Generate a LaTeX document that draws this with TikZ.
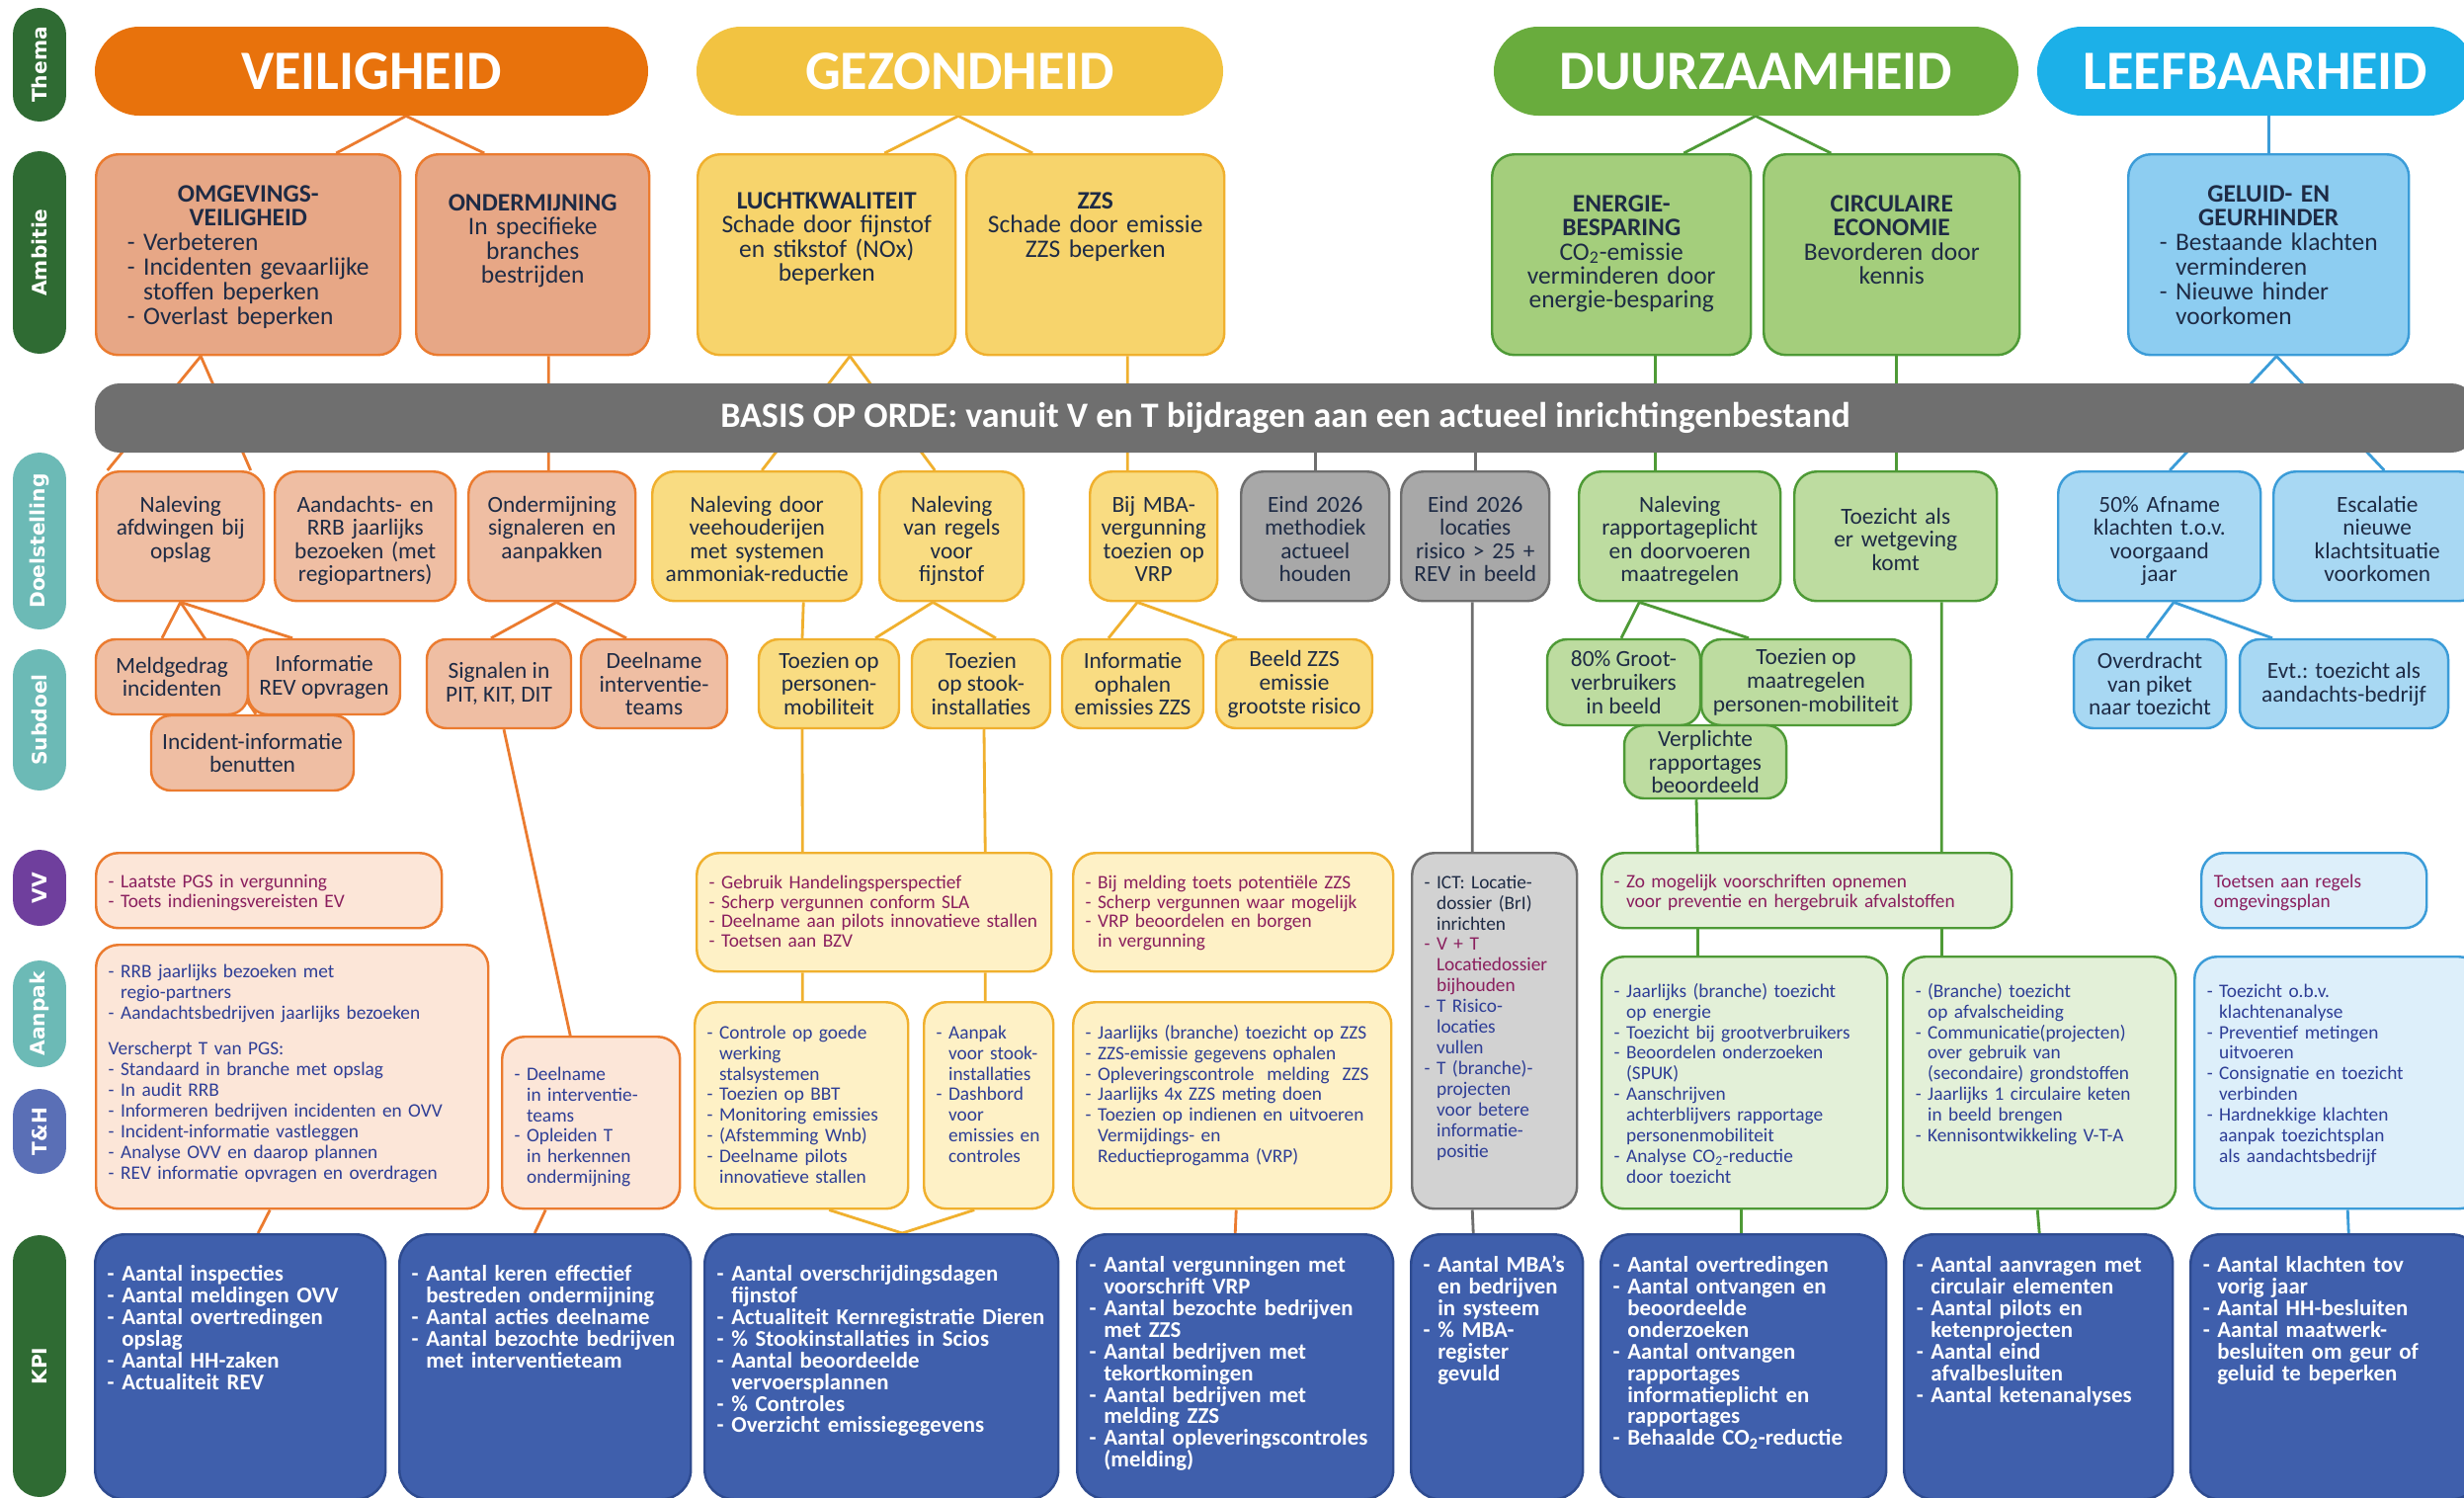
\documentclass[tikz,border=0pt]{standalone}
\usepackage{fontspec}
\setmainfont{Carlito}
\newfontfamily\sidefam{DejaVu Sans}
\usepackage{tikz}
\usetikzlibrary{positioning, calc, backgrounds}

\definecolor{txtnavy}{HTML}{1E2B45}
\definecolor{vvtxt}{HTML}{8A1F5E}
\definecolor{aptxt}{HTML}{2E3E96}
\definecolor{thGreen}{HTML}{2F6B33}
\definecolor{sdTeal}{HTML}{6CBAB6}
\definecolor{sdPurple}{HTML}{6F3F9D}
\definecolor{sdBlue}{HTML}{5A6FB6}
\definecolor{veilDark}{HTML}{E8720C}
\definecolor{veilAmb}{HTML}{E7A786}
\definecolor{veilBox}{HTML}{EFBEA3}
\definecolor{veilEdge}{HTML}{EB7B2F}
\definecolor{veilLight}{HTML}{FCE6D8}
\definecolor{gezDark}{HTML}{F2C341}
\definecolor{gezAmb}{HTML}{F7D46C}
\definecolor{gezBox}{HTML}{F9DC82}
\definecolor{gezEdge}{HTML}{F0B02E}
\definecolor{gezLight}{HTML}{FEF1C6}
\definecolor{duurDark}{HTML}{69AC3D}
\definecolor{duurAmb}{HTML}{A4CE7C}
\definecolor{duurBox}{HTML}{BDDCA0}
\definecolor{duurEdge}{HTML}{4E9A36}
\definecolor{duurLight}{HTML}{E3F0D8}
\definecolor{leefDark}{HTML}{1CB0E8}
\definecolor{leefAmb}{HTML}{8DCDF1}
\definecolor{leefBox}{HTML}{A8D8F3}
\definecolor{leefEdge}{HTML}{3B9CD8}
\definecolor{leefLight}{HTML}{DDEFFA}
\definecolor{grayBox}{HTML}{A8A8A8}
\definecolor{grayEdge}{HTML}{6E6E6E}
\definecolor{grayLight}{HTML}{D2D2D2}
\definecolor{barGray}{HTML}{6F6F6F}
\definecolor{kpiBlue}{HTML}{3F5FAC}
\definecolor{kpiEdge}{HTML}{2E4B90}

\newcommand{\fthema}{\fontsize{32}{34}\selectfont\bfseries}
\newcommand{\fbar}{\fontsize{20.5}{22}\selectfont\bfseries}
\newcommand{\fside}{\sidefam\bfseries\fontsize{11.5}{12}\selectfont}
\newcommand{\famb}{\fontsize{14.5}{13.9}\selectfont}
\newcommand{\fdoel}{\fontsize{13.3}{13.4}\selectfont}
\newcommand{\fsub}{\fontsize{13.3}{13.6}\selectfont}
\newcommand{\fvv}{\fontsize{11}{11.3}\selectfont}
\newcommand{\fap}{\fontsize{11}{11.9}\selectfont}
\newcommand{\fkpi}{\fontsize{13}{12.5}\selectfont\bfseries}
\newcommand{\ct}{\phantom{- }}

\tikzstyle{pill}  = [rounded corners=0.54cm, minimum height=1.08cm, inner sep=0pt, rotate=90, text=white, font=\fside]
\tikzstyle{thema} = [rounded corners=0.9cm, text=white, font=\fthema]
\tikzstyle{rbox}  = [line width=1.4pt, rounded corners=0.45cm, text=txtnavy]
% ambitie
\tikzstyle{ambO}  = [rbox, draw=veilEdge, fill=veilAmb, font=\famb, align=center]
\tikzstyle{ambY}  = [rbox, draw=gezEdge, fill=gezAmb, font=\famb, align=center]
\tikzstyle{ambG}  = [rbox, draw=duurEdge, fill=duurAmb, font=\famb, align=center]
\tikzstyle{ambB}  = [rbox, draw=leefEdge, fill=leefAmb, font=\famb, align=center]
% doelstelling en subdoel
\tikzstyle{doelO} = [rbox, draw=veilEdge, fill=veilBox, font=\fdoel, align=center]
\tikzstyle{doelY} = [rbox, draw=gezEdge, fill=gezBox, font=\fdoel, align=center]
\tikzstyle{doelG} = [rbox, draw=duurEdge, fill=duurBox, font=\fdoel, align=center]
\tikzstyle{doelB} = [rbox, draw=leefEdge, fill=leefBox, font=\fdoel, align=center]
\tikzstyle{doelX} = [rbox, draw=grayEdge, fill=grayBox, font=\fdoel, align=center]
\tikzstyle{subO}  = [doelO, font=\fsub, rounded corners=0.4cm]
\tikzstyle{subY}  = [doelY, font=\fsub, rounded corners=0.4cm]
\tikzstyle{subG}  = [doelG, font=\fsub, rounded corners=0.4cm]
\tikzstyle{subB}  = [doelB, font=\fsub, rounded corners=0.4cm]
% vv, aanpak
\tikzstyle{lightO} = [rbox, draw=veilEdge, fill=veilLight, align=left]
\tikzstyle{lightY} = [rbox, draw=gezEdge, fill=gezLight, align=left]
\tikzstyle{lightG} = [rbox, draw=duurEdge, fill=duurLight, align=left]
\tikzstyle{lightB} = [rbox, draw=leefEdge, fill=leefLight, align=left]
\tikzstyle{lightX} = [rbox, draw=grayEdge, fill=grayLight, align=left]
\tikzstyle{vv}    = [text=vvtxt, font=\fvv]
\tikzstyle{ap}    = [text=aptxt, font=\fap]
\tikzstyle{kpi}   = [draw=kpiEdge, fill=kpiBlue, line width=1.4pt, rounded corners=0.6cm, text=white, font=\fkpi, align=left]
% lijnen
\tikzstyle{lO}  = [draw=veilEdge, line width=1.6pt]
\tikzstyle{lY}  = [draw=gezEdge, line width=1.6pt]
\tikzstyle{lX}  = [draw=grayEdge, line width=1.6pt]
\tikzstyle{lGr} = [draw=duurEdge, line width=1.6pt]
\tikzstyle{lB}  = [draw=leefEdge, line width=1.6pt]

\tikzset{
  cbox/.style n args={4}{at={({(#1+#3)/2},{(#2+#4)/2})}, minimum width={(#3-#1)*0.02cm},
    minimum height={(#4-#2)*0.02cm}, inner sep=0pt, align=center},
  tbox/.style n args={5}{at={(#1,#2)}, anchor=north west, inner ysep=0pt, inner xsep=0.12cm,
    text width={(#3-#1)*0.02cm-0.24cm}, text height={#5*0.02cm}, text depth={(#4-#2-#5)*0.02cm}},
  lbox/.style n args={5}{at={(#1,#2)}, anchor=north west, inner ysep=0pt, inner xsep=0.25cm,
    text width={(#3-#1)*0.02cm-0.5cm}, text height={#5*0.02cm}, text depth={(#4-#2-#5)*0.02cm}}
}

\begin{document}
\begin{tikzpicture}[x=0.02cm, y=-0.02cm]
\useasboundingbox (0,0) rectangle (2494,1515);
\clip (0,0) rectangle (2494,1515);

% rij-labels
\node[pill, fill=thGreen,  minimum width=2.3cm]  (sThema)   at (40,65.5)   {Thema};
\node[pill, fill=thGreen,  minimum width=4.1cm]  (sAmbitie) at (40,255.5)  {Ambitie};
\node[pill, fill=sdTeal,   minimum width=3.58cm] (sDoel)    at (40,547.5)  {Doelstelling};
\node[pill, fill=sdTeal,   minimum width=2.86cm] (sSubdoel) at (40,728.5)  {Subdoel};
\node[pill, fill=sdPurple, minimum width=1.54cm] (sVV)      at (40,898.5)  {VV};
\node[pill, fill=sdTeal,   minimum width=2.16cm] (sAanpak)  at (40,1026)   {Aanpak};
\node[pill, fill=sdBlue,   minimum width=1.72cm] (sTH)      at (40,1145)   {T\&H};
\node[pill, fill=thGreen,  minimum width=5.3cm]  (sKPI)     at (40,1382.5) {KPI};

% thema
\node[thema, fill=veilDark, cbox={96}{27}{656}{117}]    (tVeil) {VEILIGHEID};
\node[thema, fill=gezDark,  cbox={705}{27}{1238}{117}]  (tGez)  {GEZONDHEID};
\node[thema, fill=duurDark, cbox={1512}{27}{2043}{117}] (tDuur) {DUURZAAMHEID};
\node[thema, fill=leefDark, cbox={2062}{27}{2504}{117}] (tLeef) {LEEFBAARHEID};

% ambitie
\node[ambO, tbox={96}{155}{404}{358}{48}] (aOmg) {\textbf{OMGEVINGS-}\\\textbf{VEILIGHEID}\\\begin{tabular}[t]{@{}l@{}}- Verbeteren\\- Incidenten gevaarlijke\\\ct stoffen beperken\\- Overlast beperken\end{tabular}};
\node[ambO, tbox={420}{155}{656}{358}{57}] (aOnd) {\textbf{ONDERMIJNING}\\In specifieke\\branches\\bestrijden};
\node[ambY, tbox={705}{155}{966}{358}{55}] (aLucht) {\textbf{LUCHTKWALITEIT}\\Schade door fijnstof\\en stikstof (NOx)\\beperken};
\node[ambY, tbox={977}{155}{1238}{358}{55}] (aZzs) {\textbf{ZZS}\\Schade door emissie\\ZZS beperken};
\node[ambG, tbox={1509}{155}{1771}{358}{58}] (aEnergie) {\textbf{ENERGIE-}\\\textbf{BESPARING}\\CO\textsubscript{2}-emissie\\verminderen door\\energie-besparing};
\node[ambG, tbox={1784}{155}{2043}{358}{58}] (aCirc) {\textbf{CIRCULAIRE}\\\textbf{ECONOMIE}\\Bevorderen door\\kennis};
\node[ambB, tbox={2153}{155}{2437}{358}{48}] (aGeluid) {\textbf{GELUID- EN}\\\textbf{GEURHINDER}\\\begin{tabular}[t]{@{}l@{}}- Bestaande klachten\\\ct verminderen\\- Nieuwe hinder\\\ct voorkomen\end{tabular}};

% basis op orde
\node[cbox={96}{388}{2506}{458}, fill=barGray, rounded corners=0.5cm, text=white, font=\fbar] (bar)
  {BASIS OP ORDE: vanuit V en T bijdragen aan een actueel inrichtingenbestand};

% doelstelling
\node[doelO, tbox={97}{476}{266}{607}{41}]   (dNalOps) {Naleving\\afdwingen bij\\opslag};
\node[doelO, tbox={277}{476}{460}{607}{41}]  (dAand)   {Aandachts- en\\RRB jaarlijks\\bezoeken (met\\regiopartners)};
\node[doelO, tbox={473}{476}{642}{607}{41}]  (dOndSig) {Ondermijning\\signaleren en\\aanpakken};
\node[doelY, tbox={659}{476}{871}{607}{41}]  (dVeeh)   {Naleving door\\veehouderijen\\met systemen\\ammoniak-reductie};
\node[doelY, tbox={889}{476}{1035}{607}{41}] (dFijn)   {Naleving\\van regels\\voor\\fijnstof};
\node[doelY, tbox={1102}{476}{1231}{607}{41}] (dMba)   {Bij MBA-\\vergunning\\toezien op\\VRP};
\node[doelX, tbox={1255}{476}{1405}{607}{41}] (dMeth)  {Eind 2026\\methodiek\\actueel\\houden};
\node[doelX, tbox={1417}{476}{1567}{607}{41}] (dLoc)   {Eind 2026\\locaties\\risico > 25 +\\REV in beeld};
\node[doelG, tbox={1597}{476}{1801}{607}{41}] (dRap)   {Naleving\\rapportageplicht\\en doorvoeren\\maatregelen};
\node[doelG, tbox={1815}{476}{2020}{607}{53}] (dWet)   {Toezicht als\\er wetgeving\\komt};
\node[doelB, tbox={2082}{476}{2287}{607}{41}] (dAfn)   {50\% Afname\\klachten t.o.v.\\voorgaand\\jaar};
\node[doelB, tbox={2300}{476}{2510}{607}{41}] (dEsc)   {Escalatie\\nieuwe\\klachtsituatie\\voorkomen};

% subdoel
\node[subO, cbox={97}{647}{251}{723}]   (sbMeld)   {Meldgedrag\\incidenten};
\node[subO, cbox={251}{647}{405}{723}]  (sbInfo)   {Informatie\\REV opvragen};
\node[subO, cbox={153}{724}{358}{800}]  (sbIncid)  {Incident-informatie\\benutten};
\node[subO, cbox={432}{647}{578}{737}]  (sbSign)   {Signalen in\\PIT, KIT, DIT};
\node[subO, cbox={588}{647}{736}{737}]  (sbDeeln)  {Deelname\\interventie-\\teams};
\node[subY, cbox={768}{647}{910}{737}]  (sbPers)   {Toezien op\\personen-\\mobiliteit};
\node[subY, cbox={923}{647}{1063}{737}] (sbStook)  {Toezien\\op stook-\\installaties};
\node[subY, cbox={1075}{647}{1218}{737}] (sbInfZzs) {Informatie\\ophalen\\emissies ZZS};
\node[subY, cbox={1231}{647}{1389}{737}] (sbBeeld) {Beeld ZZS\\emissie\\grootste risico};
\node[subG, cbox={1566}{647}{1721}{734}] (sbGroot) {80\% Groot-\\verbruikers\\in beeld};
\node[subG, cbox={1722}{647}{1934}{734}] (sbMaatr) {Toezien op\\maatregelen\\personen-mobiliteit};
\node[subG, cbox={1644}{734}{1808}{808}] (sbVerpl) {Verplichte\\rapportages\\beoordeeld};
\node[subB, cbox={2099}{647}{2253}{737}] (sbOverdr) {Overdracht\\van piket\\naar toezicht};
\node[subB, cbox={2267}{647}{2478}{737}] (sbEvt)   {Evt.: toezicht als\\aandachts-bedrijf};

% VV
\node[lightO, vv, lbox={96}{862}{446}{938}{35}] (vVeil) {- Laatste PGS in vergunning\\- Toets indieningsvereisten EV};
\node[lightY, vv, lbox={704}{862}{1063}{982}{36}] (vGez) {- Gebruik Handelingsperspectief\\- Scherp vergunnen conform SLA\\- Deelname aan pilots innovatieve stallen\\- Toetsen aan BZV};
\node[lightY, vv, lbox={1085}{862}{1409}{982}{36}] (vZzs) {- Bij melding toets potentiële ZZS\\- Scherp vergunnen waar mogelijk\\- VRP beoordelen en borgen\\\ct in vergunning};
\node[lightX, font=\fap, lbox={1428}{862}{1595}{1222}{36}] (vICT) {- ICT: Locatie-\\\ct dossier (BrI)\\\ct inrichten\\\textcolor{vvtxt}{- V + T}\\\textcolor{vvtxt}{\ct Locatiedossier}\\\textcolor{vvtxt}{\ct bijhouden}\\\textcolor{aptxt}{- T Risico-}\\\textcolor{aptxt}{\ct locaties}\\\textcolor{aptxt}{\ct vullen}\\\textcolor{aptxt}{- T (branche)-}\\\textcolor{aptxt}{\ct projecten}\\\textcolor{aptxt}{\ct voor betere}\\\textcolor{aptxt}{\ct informatie-}\\\textcolor{aptxt}{\ct positie}};
\node[lightG, vv, lbox={1620}{862}{2035}{938}{35}] (vDuur) {- Zo mogelijk voorschriften opnemen\\\ct voor preventie en hergebruik afvalstoffen};
\node[lightB, vv, lbox={2227}{862}{2455}{938}{35}] (vLeef) {Toetsen aan regels\\omgevingsplan};

% aanpak, T&H
\node[lightO, ap, lbox={96}{955}{493}{1222}{33}] (pVeil) {- RRB jaarlijks bezoeken met\\\ct regio-partners\\- Aandachtsbedrijven jaarlijks bezoeken\\[9pt]Verscherpt T van PGS:\\- Standaard in branche met opslag\\- In audit RRB\\- Informeren bedrijven incidenten en OVV\\- Incident-informatie vastleggen\\- Analyse OVV en daarop plannen\\- REV informatie opvragen en overdragen};
\node[lightO, ap, lbox={507}{1048}{687}{1222}{44}] (pOnd) {- Deelname\\\ct in interventie-\\\ct teams\\- Opleiden T\\\ct in herkennen\\\ct ondermijning};
\node[lightY, ap, lbox={702}{1013}{918}{1222}{37}] (pCtrl) {- Controle op goede\\\ct werking\\\ct stalsystemen\\- Toezien op BBT\\- Monitoring emissies\\- (Afstemming Wnb)\\- Deelname pilots\\\ct innovatieve stallen};
\node[lightY, ap, lbox={934}{1013}{1065}{1222}{37}] (pStook) {- Aanpak\\\ct voor stook-\\\ct installaties\\- Dashbord\\\ct voor\\\ct emissies en\\\ct controles};
\node[lightY, ap, lbox={1085}{1013}{1407}{1222}{37}] (pZzs) {- Jaarlijks (branche) toezicht op ZZS\\- ZZS-emissie gegevens ophalen\\- Opleveringscontrole\ \ melding\ \ ZZS\\- Jaarlijks 4x ZZS meting doen\\- Toezien op indienen en uitvoeren\\\ct Vermijdings- en\\\ct Reductieprogamma (VRP)};
\node[lightG, ap, lbox={1620}{967}{1909}{1222}{41}] (pEnergie) {- Jaarlijks (branche) toezicht\\\ct op energie\\- Toezicht bij grootverbruikers\\- Beoordelen onderzoeken\\\ct (SPUK)\\- Aanschrijven\\\ct achterblijvers rapportage\\\ct personenmobiliteit\\- Analyse CO\textsubscript{2}-reductie\\\ct door toezicht};
\node[lightG, ap, lbox={1925}{967}{2201}{1222}{41}] (pCirc) {- (Branche) toezicht\\\ct op afvalscheiding\\- Communicatie(projecten)\\\ct over gebruik van\\\ct (secondaire) grondstoffen\\- Jaarlijks 1 circulaire keten\\\ct in beeld brengen\\- Kennisontwikkeling V-T-A};
\node[lightB, ap, lbox={2220}{967}{2510}{1222}{41}] (pLeef) {- Toezicht o.b.v.\\\ct klachtenanalyse\\- Preventief metingen\\\ct uitvoeren\\- Consignatie en toezicht\\\ct verbinden\\- Hardnekkige klachten\\\ct aanpak toezichtsplan\\\ct als aandachtsbedrijf};

% KPI
\node[kpi, lbox={95}{1248}{389}{1516}{47}] (k1) {- Aantal inspecties\\- Aantal meldingen OVV\\- Aantal overtredingen\\\ct opslag\\- Aantal HH-zaken\\- Actualiteit REV};
\node[kpi, lbox={403}{1248}{698}{1516}{47}] (k2) {- Aantal keren effectief\\\ct bestreden ondermijning\\- Aantal acties deelname\\- Aantal bezochte bedrijven\\\ct met interventieteam};
\node[kpi, lbox={712}{1248}{1070}{1516}{47}] (k3) {- Aantal overschrijdingsdagen\\\ct fijnstof\\- Actualiteit Kernregistratie Dieren\\- \% Stookinstallaties in Scios\\- Aantal beoordeelde\\\ct vervoersplannen\\- \% Controles\\- Overzicht emissiegegevens};
\node[kpi, lbox={1089}{1248}{1409}{1516}{38}] (k4) {- Aantal vergunningen met\\\ct voorschrift VRP\\- Aantal bezochte bedrijven\\\ct met ZZS\\- Aantal bedrijven met\\\ct tekortkomingen\\- Aantal bedrijven met\\\ct melding ZZS\\- Aantal opleveringscontroles\\\ct (melding)};
\node[kpi, lbox={1427}{1248}{1601}{1516}{38}] (k5) {- Aantal MBA's\\\ct en bedrijven\\\ct in systeem\\- \% MBA-\\\ct register\\\ct gevuld};
\node[kpi, lbox={1619}{1248}{1908}{1516}{38}] (k6) {- Aantal overtredingen\\- Aantal ontvangen en\\\ct beoordeelde\\\ct onderzoeken\\- Aantal ontvangen\\\ct rapportages\\\ct informatieplicht en\\\ct rapportages\\- Behaalde CO\textsubscript{2}-reductie};
\node[kpi, lbox={1926}{1248}{2198}{1516}{38}] (k7) {- Aantal aanvragen met\\\ct circulair elementen\\- Aantal pilots en\\\ct ketenprojecten\\- Aantal eind\\\ct afvalbesluiten\\- Aantal ketenanalyses};
\node[kpi, lbox={2216}{1248}{2510}{1516}{38}] (k8) {- Aantal klachten tov\\\ct vorig jaar\\- Aantal HH-besluiten\\- Aantal maatwerk-\\\ct besluiten om geur of\\\ct geluid te beperken};

\begin{scope}[on background layer]
\fill[white] (0,0) rectangle (2494,1515);
% veiligheid
\draw[lO] ($(tVeil.south)+(35,0)$) -- ($(aOmg.north)+(89,0)$);
\draw[lO] ($(tVeil.south)+(35,0)$) -- ($(aOnd.north)+(-49,0)$);
\draw[lO] ($(aOmg.south)+(-48,0)$) -- ($(dNalOps.north)+(-74,0)$);
\draw[lO] ($(aOmg.south)+(-48,0)$) -- ($(dAand.north)+(-116,0)$);
\draw[lO] ($(aOnd.south)+(16,0)$) -- ($(dOndSig.north)+(-3.5,0)$);
\draw[lO] (dNalOps.south) -- ($(sbMeld.north)+(-10,0)$);
\draw[lO] (dNalOps.south) -- ($(sbInfo.north)+(-32,0)$);
\draw[lO] (dNalOps.south) -- ($(sbIncid.north)+(3.5,0)$);
\draw[lO] ($(dOndSig.south)+(4.5,0)$) -- ($(sbSign.north)+(-8,0)$);
\draw[lO] ($(dOndSig.south)+(4.5,0)$) -- ($(sbDeeln.north)+(-28,0)$);
\draw[lO] ($(sbSign.south)+(5,0)$) -- ($(pOnd.north)+(-21,0)$);
\draw[lO] ($(pVeil.south)+(-22.5,0)$) -- ($(k1.north)+(18,0)$);
\draw[lO] ($(pOnd.south)+(-46,0)$) -- ($(k2.north)+(-10.5,0)$);
% gezondheid
\draw[lY] ($(tGez.south)+(-1.5,0)$) -- ($(aLucht.north)+(58.5,0)$);
\draw[lY] ($(tGez.south)+(-1.5,0)$) -- ($(aZzs.north)+(-63.5,0)$);
\draw[lY] ($(aLucht.south)+(23.5,0)$) -- ($(dVeeh.north)+(5,0)$);
\draw[lY] ($(aLucht.south)+(23.5,0)$) -- ($(dFijn.north)+(-17,0)$);
\draw[lY] ($(aZzs.south)+(32.5,0)$) -- ($(dMba.north)+(-26.5,0)$);
\draw[lY] ($(dVeeh.south)+(47,0)$) -- ($(sbPers.north)+(-27,0)$);
\draw[lY] ($(sbPers.south)+(-27,0)$) -- ($(vGez.north)+(-72.5,0)$);
\draw[lY] ($(dFijn.south)+(-19,0)$) -- ($(sbPers.north)+(47,0)$);
\draw[lY] ($(dFijn.south)+(-19,0)$) -- ($(sbStook.north)+(15,0)$);
\draw[lY] ($(sbStook.south)+(3,0)$) -- ($(vGez.north)+(112.5,0)$);
\draw[lY] ($(dMba.south)+(-16.5,0)$) -- ($(sbInfZzs.north)+(-24.5,0)$);
\draw[lY] ($(dMba.south)+(-16.5,0)$) -- ($(sbBeeld.north)+(-58,0)$);
\draw[lY] ($(vGez.south)+(-72.5,0)$) -- ($(pCtrl.north)+(1,0)$);
\draw[lY] ($(vGez.south)+(112.5,0)$) -- ($(pStook.north)+(-3.5,0)$);
\draw[lY] ($(pCtrl.south)+(28,0)$) -- ($(k3.north)+(21,0)$);
\draw[lY] ($(pStook.south)+(-14.5,0)$) -- ($(k3.north)+(21,0)$);
\draw[lO] ($(pZzs.south)+(4,0)$) -- (k4.north);
% basis
\draw[lX] (bar.south -| dMeth.north) -- (dMeth.north);
\draw[lX] (bar.south -| dLoc.north) -- (dLoc.north);
\draw[lX] ($(dLoc.south)+(-3,0)$) -- ($(vICT.north)+(-22.5,0)$);
\draw[lX] ($(vICT.south)+(-22.5,0)$) -- ($(k5.north)+(-24,0)$);
% duurzaamheid
\draw[lGr] ($(tDuur.south)+(-0.5,0)$) -- ($(aEnergie.north)+(63,0)$);
\draw[lGr] ($(tDuur.south)+(-0.5,0)$) -- ($(aCirc.north)+(-61.5,0)$);
\draw[lGr] ($(aEnergie.south)+(34,0)$) -- ($(dRap.north)+(-25,0)$);
\draw[lGr] ($(aCirc.south)+(4.5,0)$) -- ($(dWet.north)+(0.5,0)$);
\draw[lGr] ($(dRap.south)+(-41,0)$) -- ($(sbGroot.north)+(-2.5,0)$);
\draw[lGr] ($(dRap.south)+(-41,0)$) -- ($(sbMaatr.north)+(-58,0)$);
\draw[lGr] ($(sbVerpl.south)+(-9,0)$) -- ($(vDuur.north)+(-110.5,0)$);
\draw[lGr] ($(dWet.south)+(46.5,0)$) -- ($(vDuur.north)+(136.5,0)$);
\draw[lGr] ($(vDuur.south)+(-110.5,0)$) -- ($(pEnergie.north)+(-47.5,0)$);
\draw[lGr] ($(vDuur.south)+(136.5,0)$) -- ($(pCirc.north)+(-99,0)$);
\draw[lGr] ($(pEnergie.south)+(-3.5,0)$) -- ($(k6.north)+(-2.5,0)$);
\draw[lGr] ($(pCirc.south)+(-2,0)$) -- ($(k7.north)+(1,0)$);
% leefbaarheid
\draw[lB] (tLeef.south -| aGeluid.north) -- (aGeluid.north);
\draw[lB] ($(aGeluid.south)+(8,0)$) -- ($(dAfn.north)+(10.5,0)$);
\draw[lB] ($(aGeluid.south)+(8,0)$) -- ($(dEsc.north)+(7,0)$);
\draw[lB] ($(dAfn.south)+(14.5,0)$) -- ($(sbOverdr.north)+(-3,0)$);
\draw[lB] ($(dAfn.south)+(14.5,0)$) -- ($(sbEvt.north)+(-72.5,0)$);
\draw[lB] ($(pLeef.south)+(10,0)$) -- ($(k8.north)+(13,0)$);
\end{scope}

\end{tikzpicture}
\end{document}
